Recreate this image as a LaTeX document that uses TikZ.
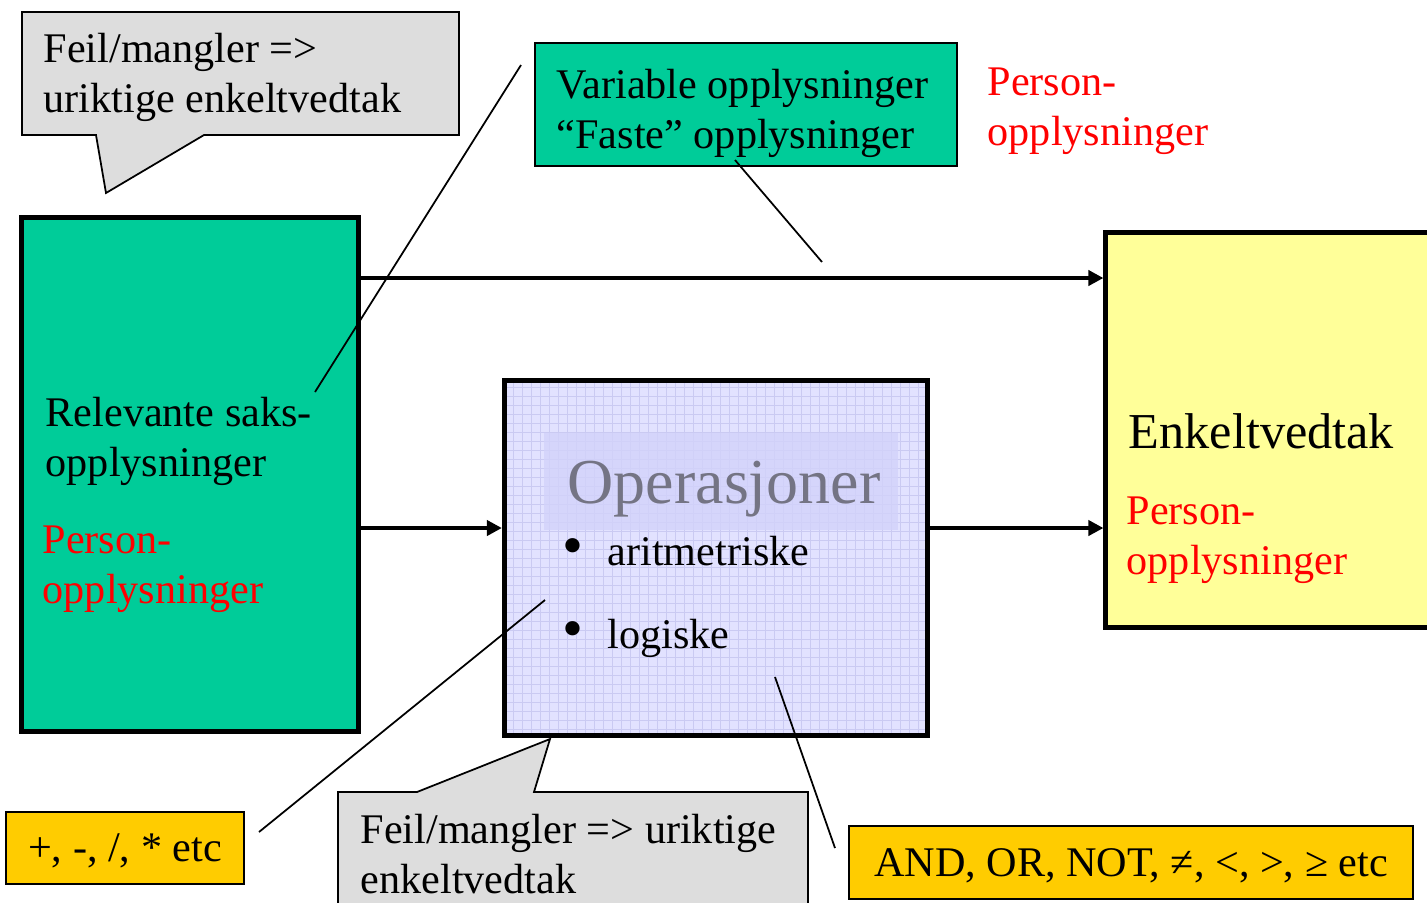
\documentclass[tikz,border=0pt]{standalone}
\usepackage{fontspec}
\setmainfont{Liberation Serif}
\usetikzlibrary{arrows.meta}

\definecolor{saksgreen}{HTML}{00CC99}
\definecolor{callgray}{HTML}{DDDDDD}
\definecolor{vedtakyellow}{HTML}{FFFF99}
\definecolor{tegnorange}{HTML}{FFCC00}
\definecolor{oplav}{HTML}{E2E2FF}
\definecolor{opgrid}{HTML}{CACAF2}
\definecolor{opinner}{HTML}{D2D2FA}
\definecolor{optext}{HTML}{747484}

\begin{document}
\begin{tikzpicture}[x=0.01cm, y=-0.01cm,
  txt/.style={anchor=base west, inner sep=0pt, align=left, font=\fontsize{12}{14.2}\selectfont},
  thickbox/.style={draw, line width=1.4pt},
  thinbox/.style={draw, line width=0.5pt},
  tegnbox/.style={thinbox, fill=tegnorange, text depth=0pt, font=\fontsize{12}{14.2}\selectfont},
  pil/.style={line width=1.15pt, -{Triangle[length=0.15cm, width=0.15cm]}},
  strek/.style={line width=0.5pt}]

\useasboundingbox (0,0) rectangle (1427,902);
\clip (0,0) rectangle (1427,902);

% callouts (multi-line text sits on its last baseline)
\draw[thinbox, fill=callgray] (22,12) -- (459,12) -- (459,135) -- (204,135) -- (106,193) -- (96,135) -- (22,135) -- cycle;
\node[txt] (feil1) at (43,112) {Feil/mangler =>\\uriktige enkeltvedtak};

\draw[thinbox, fill=callgray] (338,950) -- (338,792) -- (417,792) -- (550,739) -- (534,792) -- (808,792) -- (808,950) -- cycle;
\node[txt] (feil2) at (360,893) {Feil/mangler => uriktige\\enkeltvedtak};

% boxes
\node[thickbox, fill=saksgreen, minimum width=3.36cm, minimum height=5.13cm] (saks) at (190,474.5) {};
\node[txt] (sakstxt) at (45,476) {Relevante saks-\\opplysninger};
\node[txt, text=red] (saksperson) at (42,603) {Person-\\opplysninger};

\node[thinbox, fill=saksgreen, minimum width=4.22cm, minimum height=1.23cm] (opplys) at (746,104.5) {};
\node[txt] (opplystxt) at (556,148) {Variable opplysninger\\“Faste” opplysninger};
\node[txt, text=red] (topperson) at (987,145) {Person-\\opplysninger};

\node[thickbox, fill=vedtakyellow, minimum width=3.34cm, minimum height=3.94cm] (vedtak) at (1273,430) {};
\node[txt, font=\fontsize{14.3}{16}\selectfont] (vedtaktxt) at (1128,448) {Enkeltvedtak};
\node[txt, text=red] (vedtakperson) at (1126,574) {Person-\\opplysninger};

% operasjoner
\fill[oplav] (504.5,381) rectangle (927,735);
\draw[opgrid, line width=0.3pt, step=0.09cm] (504.5,381) grid (927,735);
\fill[opinner, opacity=0.8] (544,433) rectangle (898,530);
\node[thickbox, minimum width=4.225cm, minimum height=3.54cm] (oper) at (715.75,558) {};
\node[txt, font=\fontsize{18.2}{20}\selectfont, text=optext] (opertitle) at (567,503) {Operasjoner};
\node[txt, font=\fontsize{17}{20}\selectfont] (bullet1) at (562,565) {•};
\node[txt] (aritm) at (607,565) {aritmetriske};
\node[txt, font=\fontsize{17}{20}\selectfont] (bullet2) at (562,648) {•};
\node[txt] (logisk) at (607,648) {logiske};

\node[tegnbox, minimum width=2.38cm, minimum height=0.72cm] (tegn) at (125,848) {+, -, /, * etc};
\node[tegnbox, minimum width=5.64cm, minimum height=0.73cm] (logtegn) at (1131,862.5) {AND, OR, NOT, ≠, <, >, ≥ etc};

% arrows
\coordinate (hoyde1) at (0,278);
\coordinate (hoyde2) at (0,528);
\draw[pil] (saks.east |- hoyde1) -- (vedtak.west |- hoyde1);
\draw[pil] (saks.east |- hoyde2) -- (oper.west |- hoyde2);
\draw[pil] (oper.east |- hoyde2) -- (vedtak.west |- hoyde2);

% pointer lines
\coordinate (p1a) at (521,65);
\coordinate (p1b) at (315,392);
\coordinate (p2a) at (735,160);
\coordinate (p2b) at (822,262);
\coordinate (p3a) at (545,600);
\coordinate (p3b) at (259,832);
\coordinate (p4a) at (775,677);
\coordinate (p4b) at (835,848);
\draw[strek] (p1a) -- (p1b);
\draw[strek] (p2a) -- (p2b);
\draw[strek] (p3a) -- (p3b);
\draw[strek] (p4a) -- (p4b);

\end{tikzpicture}
\end{document}
